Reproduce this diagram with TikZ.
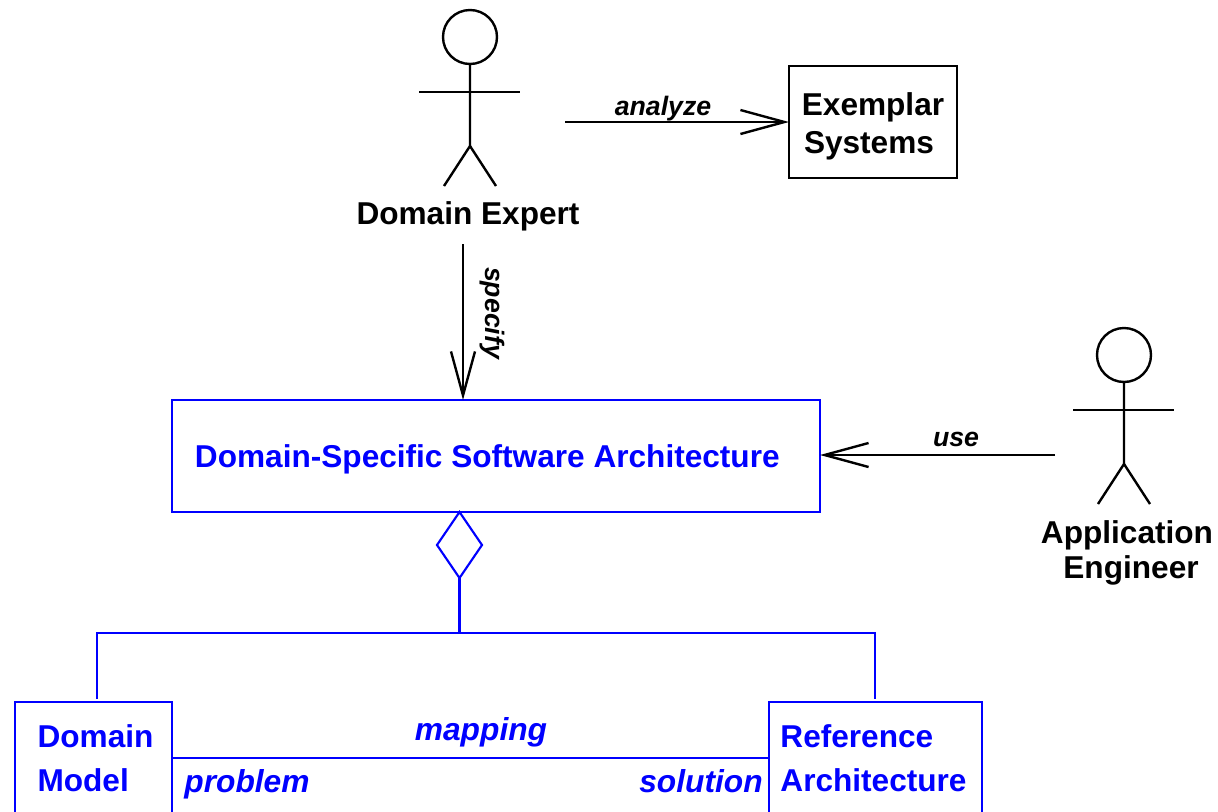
\documentclass[tikz,border=0pt]{standalone}
\usepackage{fontspec}
\setmainfont{Liberation Sans}
\usepackage{tikz}
\usetikzlibrary{
  arrows.meta,
  chains,
  positioning,
  scopes,
  shapes.geometric
}

\begin{document}
\begin{tikzpicture}[
      x=0.75pt,y=-0.75pt,
      >={Straight Barb[length=33pt,width=18pt]},
      line width=1.8pt,
      heading/.style={
         font=\fontsize{23.7}{#1}\selectfont\bfseries,
         align=center,
         inner sep=0pt
      },
      plain box/.style={
         rectangle,
         draw=black,
         outer sep=0pt,
         heading=28.5pt
      },
      part box/.style={
         rectangle,
         draw=blue,
         text=blue,
         line width=1.9pt,
         outer sep=0pt,
         heading=33pt,
         align=left
      },
      verb/.style={
         font=\fontsize{20}{24}\selectfont\bfseries\itshape,
         inner sep=0pt
      },
      role/.style={
         font=\fontsize{23.8}{28}\selectfont\bfseries\itshape,
         text=blue,
         inner sep=0pt
      },
      whole/.style={
         diamond,
         draw=blue,
         line width=1.6pt,
         inner sep=0pt,
         outer sep=0pt,
         minimum width=33.75pt,
         minimum height=49.5pt
      },
      point/.style={coordinate},
      tip/.style={->},
      every join/.style={line cap=butt},
      assoc/.style={draw=blue,line width=1.9pt},
      hv path/.style={to path={-| (\tikztotarget)}},
      actor/.pic={
         \node (-head) [circle, draw, inner sep=0pt, outer sep=0pt, minimum size=40.5pt] at (0,0) {};
         \node (-hip) [point] at (0,109) {};
         \node (-armL) [point] at (-51,55) {};
         \node (-armR) [point] at (50,55) {};
         \node (-legL) [point] at (-26,149) {};
         \node (-legR) [point] at (26,149) {};
         \draw (-head) -- (-hip) -- (-legL);
         \draw (-hip) -- (-legR);
         \draw (-armL) -- (-armR);
      }
    ]
    \path[use as bounding box,clip] (0,0) rectangle (1218,811);

    \pic (expert) at (470,37) {actor};
    \pic (engineer) at (1124,355) {actor};
    \node (n_expert) [heading=28pt] at (468,216) {Domain Expert};
    \node (n_engineer) [heading=26.25pt] at (1127,553) {Application\\\hspace*{6pt}Engineer};

    \node (n_exemplar) [plain box, minimum width=126pt, minimum height=84pt] at (873,122) {\rule{0pt}{23pt}Exemplar\\Systems\hspace*{6pt}};
    \node (n_dssa) [part box, minimum width=486pt, minimum height=84pt] at (496,456) {\rule{0pt}{22pt}Domain-Specific Software Architecture\hspace*{13pt}};
    \node (n_whole) [whole] at (459.5,545) {};
    \node (n_model) [part box, minimum width=117.75pt, minimum height=84pt] at (93.5,758) {\hspace*{3pt}Domain\\\hspace*{3pt}Model};
    \node (n_ref) [part box, minimum width=159.75pt, minimum height=84pt] at (875.5,758) {Reference\\Architecture\hspace*{3pt}};

    \node (n_analyze) [point] at (565,122) {};
    \node (n_specify) [point] at (463,244) {};
    \node (n_dssatop) [point] at (463,400) {};
    \node (n_use) [point] at (1055,455) {};
    \node (n_dssaright) [point] at (820,455) {};
    \node (n_fork) [point] at (459.5,633) {};
    \node (n_modeltop) [point] at (97,699) {};
    \node (n_reftop) [point] at (875,699) {};

    \node (l_analyze) [verb] at (663,109) {analyze};
    \node (l_specify) [verb, rotate=-90] at (492,313) {specify};
    \node (l_use) [verb] at (956,439) {use};
    \node (l_mapping) [role] at (481,732) {mapping};
    \node (l_problem) [role] at (247,784) {problem};
    \node (l_solution) [role] at (701,781) {solution};

  { [start chain]
       \chainin (n_analyze);
       \chainin (n_exemplar)    [join=by tip];
  }
  { [start chain]
       \chainin (n_specify);
       \chainin (n_dssatop)    [join=by tip];
  }
  { [start chain]
       \chainin (n_use);
       \chainin (n_dssaright)    [join=by tip];
  }
  { [start chain]
       \chainin (n_whole);
       \chainin (n_fork)    [join=by assoc];
  }
  { [start chain]
       \chainin (n_fork);
       \chainin (n_modeltop)    [join=by {assoc,hv path}];
  }
  { [start chain]
       \chainin (n_fork);
       \chainin (n_reftop)    [join=by {assoc,hv path}];
  }
  { [start chain]
       \chainin (n_model);
       \chainin (n_ref)    [join=by assoc];
  }
\end{tikzpicture}
\end{document}
